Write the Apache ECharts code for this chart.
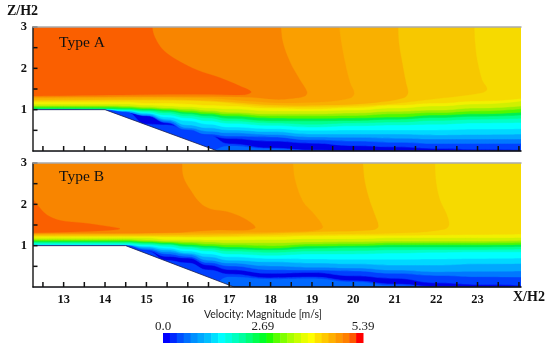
<!DOCTYPE html>
<html><head><meta charset="utf-8">
<script src="https://cdn.jsdelivr.net/npm/echarts@6/dist/echarts.min.js"></script>
<style>html,body{margin:0;padding:0;background:#fff}#c{width:550px;height:349px;filter:blur(.35px)}</style>
</head><body><div id="c"></div>
<script>
// X stations (X/H2) at which contour heights Z/H2 were read
const stations=[12.26,13,14,14.5,15,15.5,16,16.5,17,18,19,20,21,22,23,24.05];
const xTicks=[12.5,13,13.5,14,14.5,15,15.5,16,16.5,17,17.5,18,18.5,19,19.5,20,20.5,21,21.5,22,22.5,23,23.5,24];
const yTicks=[0.5,1,1.5,2,2.5,3];
const xLabels=[13,14,15,16,17,18,19,20,21,22,23];
const yLabels=[1,2,3];
const levelColors=['#0040FF','#0078FF','#00A8FF','#00D8FF','#00FFFF','#00FFC8','#00FF90','#00F050','#50F800','#98F000','#D0F000','#F2F000','#F6DA00'];
// Type A contour heights, lowest speed first
const a1=[1,1,.99,.93,.85,.68,.44,.36,.30,.24,.19,.13,.10,.06,.04,.02];
const a2=[1,1,.99,.94,.86,.70,.48,.41,.36,.34,.27,.24,.21,.18,.18,.18];
const a3=[1,1,.99,.94,.87,.74,.56,.48,.44,.40,.34,.33,.31,.29,.29,.29];
const a4=[1.01,1.01,.99,.97,.90,.77,.63,.56,.51,.47,.41,.41,.41,.39,.40,.41];
const a5=[1.01,1.01,1,.98,.92,.82,.73,.65,.58,.54,.50,.51,.51,.51,.53,.54];
const a6=[1.02,1.02,1.02,.99,.94,.87,.80,.73,.67,.62,.58,.61,.63,.65,.68,.69];
const a7=[1.02,1.02,1.02,1,.97,.92,.85,.80,.73,.68,.65,.68,.70,.74,.77,.79];
const a8=[1.03,1.03,1.03,1.02,.99,.96,.90,.85,.79,.73,.73,.74,.77,.81,.84,.87];
const a9=[1.05,1.05,1.05,1.04,1.02,.99,.94,.90,.85,.80,.79,.80,.82,.87,.90,.94];
const a10=[1.08,1.08,1.08,1.07,1.04,1.02,.98,.94,.90,.85,.85,.86,.90,.93,.97,1.02];
const a11=[1.10,1.10,1.10,1.09,1.07,1.04,1.02,.98,.94,.90,.90,.92,.96,.99,1.04,1.09];
const a12=[1.14,1.14,1.14,1.14,1.11,1.09,1.07,1.04,1.02,.97,.97,.99,1.04,1.09,1.14,1.21];
const a13=[1.19,1.19,1.19,1.19,1.16,1.16,1.14,1.11,1.09,1.04,1.02,1.05,1.11,1.16,1.21,1.27];
const aUnder=[1,1,.99,.94,.65,.63,.51,.375,.17,.07,.02,0,0,0,0,0];
const aFloor=[0,0,0,0,0,0,0,0,.12,.05,.01,0,0,0,0,0];
// Type B contour heights, lowest speed first
const b1=[1,1,1,1,.88,.74,.70,.53,.42,.33,.35,.27,.21,.10,.06,.04];
const b2=[1.01,1.01,1.01,1.01,.91,.80,.74,.59,.51,.42,.41,.39,.33,.28,.25,.24];
const b3=[1.01,1.01,1.01,1.01,.94,.85,.79,.65,.58,.51,.48,.46,.41,.37,.38,.39];
const b4=[1.02,1.02,1.02,1.02,.97,.90,.82,.73,.65,.61,.58,.56,.53,.53,.56,.57];
const b5=[1.03,1.03,1.03,1.03,.99,.94,.87,.80,.73,.69,.68,.67,.67,.68,.69,.70];
const b6=[1.04,1.04,1.04,1.04,1.02,.98,.92,.87,.80,.77,.80,.80,.82,.84,.85,.85];
const b7=[1.07,1.07,1.07,1.07,1.04,1.02,.97,.92,.87,.84,.87,.88,.90,.91,.91,.92];
const b8=[1.09,1.09,1.09,1.09,1.07,1.04,.99,.96,.92,.90,.94,.96,.97,.97,.97,.98];
const b9=[1.11,1.11,1.11,1.11,1.09,1.07,1.03,1,.97,.94,.99,1,1.02,1.02,1.02,1.03];
const b10=[1.14,1.14,1.14,1.14,1.11,1.09,1.07,1.04,1.02,1,1.04,1.05,1.07,1.07,1.07,1.08];
const b11=[1.16,1.16,1.16,1.16,1.14,1.11,1.10,1.09,1.07,1.07,1.09,1.10,1.11,1.11,1.11,1.13];
const b12=[1.20,1.20,1.20,1.20,1.19,1.15,1.15,1.14,1.14,1.15,1.17,1.17,1.19,1.19,1.19,1.20];
const b13=[1.25,1.25,1.25,1.25,1.25,1.22,1.21,1.21,1.21,1.22,1.24,1.25,1.25,1.26,1.27,1.28];
const bUnder=[1,1,1,1,.87,.64,.58,.41,.31,.22,.24,.15,.07,.01,0,0];
const bFloor=[0,0,0,0,0,0,0,0,.24,.19,.20,.12,.03,0,0,0];
// Wall profiles
const wallAx=[12.26,14,16.72,24.05], wallAz=[1,1,0,0];
const wallBx=[12.26,14.5,17.12,24.05], wallBz=[1,1,0,0];
// Closed regions of the free stream, Type A
const t1Ax=[22.92,22.92,22.94,22.99,23.11,23.23,23.11,22.14,20.52,18.11,16.3,12.26,11.9,11.9];
const t1Az=[3.4,3,2.61,2.2,1.72,1.5,1.41,1.28,1.11,1.07,1.21,1.21,1.21,3.4];
const t2Ax=[21.08,21.08,21.1,21.18,21.27,21.32,21.2,20.52,19.32,18.11,16.3,12.26,11.9,11.9];
const t2Az=[3.4,3,2.61,2.13,1.65,1.4,1.28,1.17,1.11,1.11,1.23,1.24,1.24,3.4];
const t3Ax=[19.66,19.66,19.71,19.8,19.92,20.02,19.92,19.32,18.11,16.3,12.26,11.9,11.9];
const t3Az=[3.4,3,2.61,2.13,1.65,1.4,1.28,1.19,1.17,1.28,1.28,1.28,3.4];
const t4Ax=[18.25,18.25,18.3,18.47,18.71,18.88,18.83,18.52,18.11,17.53,16.3,12.26,11.9,11.9];
const t4Az=[3.4,3,2.61,2.15,1.72,1.43,1.33,1.27,1.25,1.3,1.32,1.31,1.31,3.4];
const t5Ax=[15.14,15.14,15.21,15.4,15.74,16.22,16.78,17.26,17.53,17.38,16.3,14.68,12.26,11.9,11.9];
const t5Az=[3.4,3,2.74,2.45,2.2,1.96,1.77,1.57,1.43,1.36,1.37,1.36,1.33,1.33,3.4];
// Closed regions of the free stream, Type B
const t1Bx=[21.97,21.97,22,22.09,22.26,22.31,22.21,21.32,19.73,18.11,16.3,12.26,11.9,11.9];
const t1Bz=[3.4,3,2.52,2.11,1.74,1.5,1.4,1.31,1.28,1.26,1.23,1.23,1.23,3.4];
const t2Bx=[20.23,20.23,20.28,20.4,20.52,20.6,20.45,19.32,18.11,16.3,12.26,11.9,11.9];
const t2Bz=[3.4,3,2.52,2.07,1.74,1.46,1.38,1.34,1.3,1.27,1.26,1.26,3.4];
const t3Bx=[18.54,18.54,18.59,18.78,19.03,19.26,19.15,18.59,18.11,16.3,12.26,11.9,11.9];
const t3Bz=[3.4,3,2.59,2.07,1.79,1.46,1.38,1.34,1.33,1.31,1.28,1.28,3.4];
const t4Bx=[15.86,15.86,15.89,16.06,16.3,16.54,16.95,17.34,17.63,17.46,16.71,15.5,12.26,11.9,11.9];
const t4Bz=[3.4,3,2.67,2.35,2.03,1.89,1.82,1.67,1.45,1.38,1.38,1.31,1.3,1.3,3.4];
const t5Bx=[11.9,12.26,12.36,12.6,12.92,13.47,14.12,14.36,14.2,13.47,12.26,11.9];
const t5Bz=[2.2,2.11,1.99,1.74,1.61,1.55,1.46,1.41,1.38,1.34,1.31,1.31];
const freeColors=['#F7C800','#F9B000','#FA9F00','#F88500','#FA5F00'];
// Colour bar
const cbColors=['#0000FF','#0028FF','#0050FF','#0070FF','#0090FF','#00A8FF','#00C0FF','#00E0FF','#00FFFF','#00FFE0','#00FFC0','#00FFA0','#00FF78','#00FF50','#00FF28','#20FF00','#58FF00','#80FF00','#A8FF00','#C8FF00','#E8FF00','#FFFF00','#FFE000','#FFC800','#FFB000','#FF9800','#FF8000','#FF5800','#FF0000'];
const cbLabels=[0,2.69,5.39];
const cbMax=5.39;

const serif='"Liberation Serif"';
const chart=echarts.init(document.getElementById('c'),null,{renderer:'canvas'});

function pairs(xs,zs){return xs.map((x,i)=>[x,zs[i]]);}
function areaLine(panel,xs,zs,color,origin,smooth,line){
  return {type:'line',xAxisIndex:panel*2,yAxisIndex:panel,data:pairs(xs,zs),smooth:smooth,smoothMonotone:'x',
    symbol:'none',silent:true,clip:true,
    lineStyle:line||{width:.5,color:color},
    areaStyle:{color:color,opacity:1,origin:origin}};
}
function freeRegion(panel,xs,zs,color){
  return {type:'custom',xAxisIndex:panel*2,yAxisIndex:panel,clip:true,silent:true,data:[[xs[0],zs[0]]],
    renderItem:function(p,api){
      return {type:'polygon',shape:{points:xs.map((x,i)=>api.coord([x,zs[i]])),smooth:.35},style:{fill:color,stroke:color,lineWidth:.3}};
    }};
}
function tickSeries(panel,onX){
  const vals=onX?xTicks:yTicks;
  return {type:'custom',xAxisIndex:panel*2,yAxisIndex:panel,clip:false,silent:true,
    encode:{x:0,y:1},
    data:vals.map(v=>onX?[v,0]:[12.26,v]),
    renderItem:function(p,api){
      const c=api.coord([api.value(0),api.value(1)]);
      return {type:'rect',shape:onX?{x:c[0]-.75,y:c[1]-5,width:1.5,height:5}:{x:c[0],y:c[1]-.75,width:4.5,height:1.5},style:{fill:'#111'}};
    }};
}
function panelSeries(panel,levels,under,floor,free,wx,wz){
  const s=[areaLine(panel,stations,stations.map(()=>0),'#0000E6','end',false)];
  levels.forEach((l,i)=>s.push(areaLine(panel,stations,l,levelColors[i],'end',true)));
  s.push(areaLine(panel,stations,under,'#0040FF','start',true));
  s.push(areaLine(panel,stations,floor,'#0068FF','start',true));
  free.forEach((f,i)=>s.push(freeRegion(panel,f[0],f[1],freeColors[i])));
  s.push(areaLine(panel,wx,wz,'#FFFFFF','start',false,{width:.8,color:'#1c2050'}));
  s.push(tickSeries(panel,true));
  s.push(tickSeries(panel,false));
  return s;
}
const series=[].concat(
  panelSeries(0,[a1,a2,a3,a4,a5,a6,a7,a8,a9,a10,a11,a12,a13],aUnder,aFloor,
    [[t1Ax,t1Az],[t2Ax,t2Az],[t3Ax,t3Az],[t4Ax,t4Az],[t5Ax,t5Az]],wallAx,wallAz),
  panelSeries(1,[b1,b2,b3,b4,b5,b6,b7,b8,b9,b10,b11,b12,b13],bUnder,bFloor,
    [[t1Bx,t1Bz],[t2Bx,t2Bz],[t3Bx,t3Bz],[t4Bx,t4Bz],[t5Bx,t5Bz]],wallBx,wallBz)
);
series.forEach((s,i)=>{s.z=2+i;});
series.push({type:'custom',xAxisIndex:4,yAxisIndex:2,silent:true,data:cbColors.map((c,i)=>[i]),
  renderItem:function(p,api){
    const i=api.value(0),st=cbMax/cbColors.length;
    const a=api.coord([i*st,1]),b=api.coord([(i+1)*st,0]);
    return {type:'rect',shape:{x:a[0],y:a[1],width:b[0]-a[0]+.5,height:b[1]-a[1]},style:{fill:cbColors[i]}};
  }});

function xBottom(idx,showLabels){
  return {type:'value',gridIndex:idx,min:12.26,max:24.05,position:'bottom',z:200,
    axisLine:{show:true,onZero:false,lineStyle:{color:'#111',width:1.5}},
    axisTick:{show:false},
    minorTick:{show:false},splitLine:{show:false},
    axisLabel:showLabels?{show:true,customValues:xLabels,margin:6,color:'#111',fontFamily:serif,fontWeight:'bold',fontSize:12.5,formatter:v=>String(v)}:{show:false}};
}
function xTop(idx){
  return {type:'value',gridIndex:idx,min:12.26,max:24.05,position:'top',z:200,
    axisLine:{show:true,onZero:false,lineStyle:{color:'#aaa',width:1.5}},axisTick:{show:false},axisLabel:{show:false},splitLine:{show:false}};
}
function yLeft(idx){
  return {type:'value',gridIndex:idx,min:0,max:3,interval:.5,position:'left',z:200,
    axisLine:{show:true,onZero:false,lineStyle:{color:'#222',width:1.5}},
    axisTick:{show:false},
    splitLine:{show:false},
    axisLabel:{show:true,customValues:yLabels,margin:6,color:'#111',fontFamily:serif,fontWeight:'bold',fontSize:12.5,formatter:v=>String(v)}};
}
function txt(text,x,y,font,extra){
  return {type:'text',x:x,y:y,z:300,style:Object.assign({text:text,font:font,fill:'#111',textAlign:'left',textVerticalAlign:'middle'},extra||{})};
}
chart.setOption({
  animation:false,backgroundColor:'#fff',
  grid:[{left:33,top:27,width:488,height:124},{left:33,top:163,width:488,height:124},{left:163,top:333,width:200,height:10}],
  xAxis:[xBottom(0,false),xTop(0),xBottom(1,true),xTop(1),
    {type:'value',gridIndex:2,min:0,max:cbMax,position:'top',axisLine:{show:false},axisTick:{show:false},splitLine:{show:false},
     axisLabel:{show:true,customValues:cbLabels,margin:0,color:'#222',fontFamily:serif,fontSize:13,hideOverlap:false,
       formatter:v=>v===0?'0.0':String(v)}}],
  yAxis:[yLeft(0),yLeft(1),{type:'value',gridIndex:2,min:0,max:1,show:false}],
  series:series,
  graphic:[
    txt('Z/H2',7,11,'bold 14px '+serif,{}),
    txt('X/H2',513,297,'bold 14px '+serif,{}),
    txt('Type A',59,43,'15.5px '+serif,{}),
    txt('Type B',59,177,'15.5px '+serif,{}),
    txt('Velocity: Magnitude [m/s]',263,315,'10.5px Lato',{textAlign:'center',fill:'#222'})
  ]
});
</script></body></html>
